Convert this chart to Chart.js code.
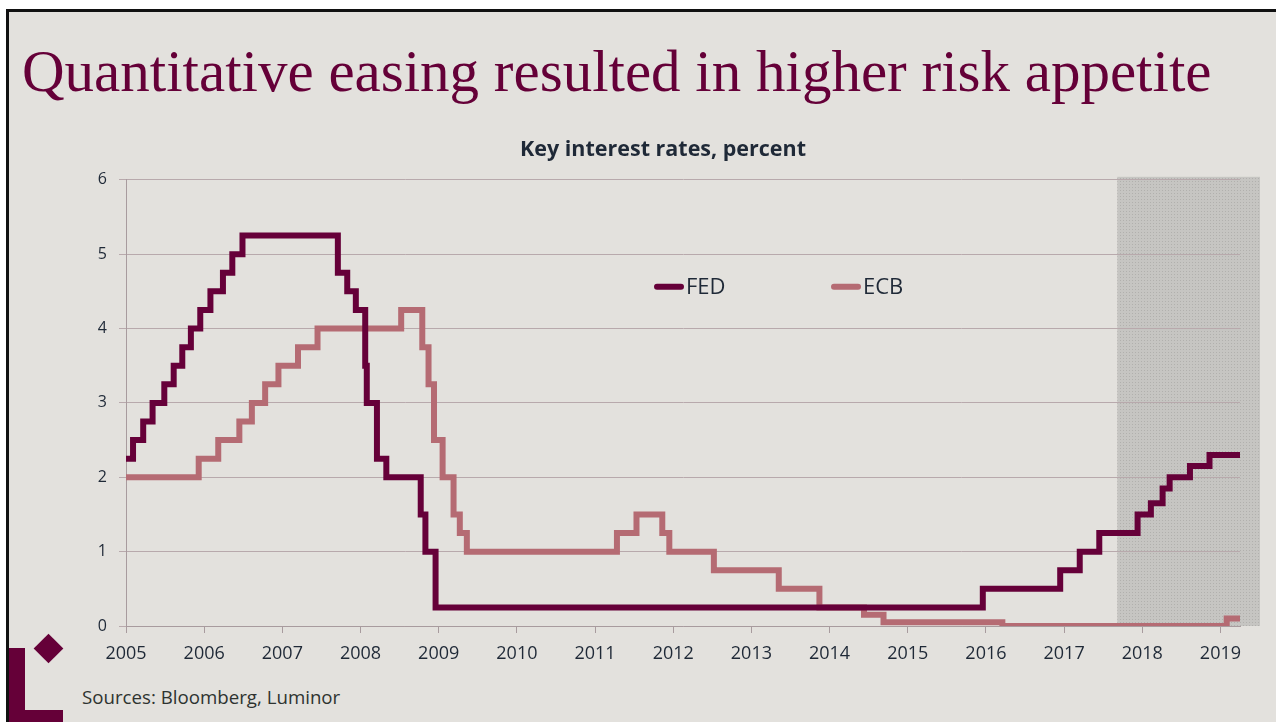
<!DOCTYPE html>
<html lang="en">
<head>
<meta charset="UTF-8">
<title>Key interest rates, percent</title>
<style>
    body {
        margin: 0;
        width: 1276px;
        height: 722px;
        overflow: hidden;
        position: relative;
        background: #ffffff;
        font-family: "Open Sans", sans-serif;
    }
    .slide {
        position: absolute;
        left: 6px;
        top: 9px;
        right: 0;
        bottom: 0;
        background: #e3e1dd;
        border-left: 3px solid #111;
        border-top: 3px solid #111;
    }
    h1 {
        position: absolute;
        left: 22px;
        top: 42px;
        margin: 0;
        font: normal 59px/1 "Liberation Serif", serif;
        color: #650038;
        white-space: nowrap;
    }
    .sources {
        position: absolute;
        left: 82px;
        top: 688px;
        font-size: 18.7px;
        line-height: 1;
        color: #2e3330;
    }
    .logo-v { position: absolute; left: 9px; top: 648px; width: 16px; height: 74px; background: #650038; }
    .logo-h { position: absolute; left: 9px; top: 710px; width: 54px; height: 12px; background: #650038; }
    .logo-d { position: absolute; left: 38px; top: 638px; width: 21px; height: 21px; background: #650038; transform: rotate(45deg); }
    .chart-box {
        position: absolute;
        left: 0;
        top: 0;
        width: 1276px;
        height: 722px;
    }
</style>
</head>
<body>
<div class="slide"></div>
<h1>Quantitative easing resulted in higher risk appetite</h1>
<div class="logo-v"></div>
<div class="logo-h"></div>
<div class="logo-d"></div>
<div class="sources">Sources: Bloomberg, Luminor</div>
<div class="chart-box"><canvas id="rates"></canvas></div>

<script src="https://cdn.jsdelivr.net/npm/chart.js"></script>
<script>
    // decision dates (decimal years) and the rate in force from that date
    const fedDates = [2005.00, 2005.09, 2005.22, 2005.34, 2005.49, 2005.61, 2005.72, 2005.83, 2005.95,
                      2006.08, 2006.24, 2006.36, 2006.49, 2007.71, 2007.83, 2007.94, 2008.06, 2008.08,
                      2008.21, 2008.33, 2008.77, 2008.83, 2008.96, 2015.96, 2016.95, 2017.20, 2017.45,
                      2017.94, 2018.11, 2018.26, 2018.35, 2018.61, 2018.86, 2019.25];
    const fedRates = [2.25, 2.5, 2.75, 3.0, 3.25, 3.5, 3.75, 4.0, 4.25,
                      4.5, 4.75, 5.0, 5.25, 4.75, 4.5, 4.25, 3.5, 3.0,
                      2.25, 2.0, 1.5, 1.0, 0.25, 0.5, 0.75, 1.0, 1.25,
                      1.5, 1.65, 1.85, 2.0, 2.15, 2.3, 2.3];

    const ecbDates = [2005.00, 2005.93, 2006.18, 2006.45, 2006.61, 2006.78, 2006.95, 2007.20, 2007.45,
                      2008.52, 2008.79, 2008.87, 2008.94, 2009.05, 2009.19, 2009.27, 2009.36, 2011.28,
                      2011.53, 2011.86, 2011.95, 2012.52, 2013.35, 2013.87, 2014.44, 2014.69, 2016.21,
                      2019.08, 2019.25];
    const ecbRates = [2.0, 2.25, 2.5, 2.75, 3.0, 3.25, 3.5, 3.75, 4.0,
                      4.25, 3.75, 3.25, 2.5, 2.0, 1.5, 1.25, 1.0, 1.25,
                      1.5, 1.25, 1.0, 0.75, 0.5, 0.25, 0.15, 0.05, 0.0,
                      0.1, 0.1];

    const yearTicks = [2005, 2006, 2007, 2008, 2009, 2010, 2011, 2012, 2013, 2014, 2015, 2016, 2017, 2018, 2019];
    const rateTicks = [0, 1, 2, 3, 4, 5, 6];

    const seriesNames = ['FED', 'ECB'];
    const forecastFrom = 2017.68;

    const toPoints = (xs, ys) => xs.map((x, i) => ({ x: x, y: ys[i] }));

    // dotted grey band over the latest period
    const shadePlugin = {
        id: 'shade',
        beforeDraw(chart) {
            const { ctx, chartArea, scales } = chart;
            const tile = document.createElement('canvas');
            tile.width = 3;
            tile.height = 3;
            const t = tile.getContext('2d');
            t.fillStyle = '#c6c5c2';
            t.fillRect(0, 0, 3, 3);
            t.fillStyle = '#b1b0ad';
            t.fillRect(1, 1, 1, 1);
            const x0 = scales.x.getPixelForValue(forecastFrom);
            ctx.save();
            ctx.fillStyle = ctx.createPattern(tile, 'repeat');
            ctx.fillRect(x0, chartArea.top - 3, chartArea.right + 20 - x0, chartArea.bottom - chartArea.top + 3);
            ctx.restore();
        }
    };

    // legend sitting inside the plot
    const inlineLegend = {
        id: 'inlineLegend',
        afterDatasetsDraw(chart) {
            const { ctx, chartArea } = chart;
            const offsets = [528, 705];
            const y = chartArea.top + 107;
            ctx.save();
            ctx.font = '22px "Open Sans"';
            ctx.textBaseline = 'middle';
            chart.data.datasets.forEach((ds, i) => {
                const x = chartArea.left + offsets[i];
                ctx.strokeStyle = ds.borderColor;
                ctx.lineWidth = 6;
                ctx.lineCap = 'round';
                ctx.beginPath();
                ctx.moveTo(x + 3, y);
                ctx.lineTo(x + 27, y);
                ctx.stroke();
                ctx.fillStyle = '#1f2937';
                ctx.fillText(ds.label, x + 32, y + 1);
            });
            ctx.restore();
        }
    };

    new Chart(document.getElementById('rates'), {
        type: 'line',
        data: {
            datasets: [
                {
                    label: seriesNames[0],
                    data: toPoints(fedDates, fedRates),
                    borderColor: '#660039',
                    borderWidth: 6,
                    stepped: true,
                    pointRadius: 0,
                    borderJoinStyle: 'miter'
                },
                {
                    label: seriesNames[1],
                    data: toPoints(ecbDates, ecbRates),
                    borderColor: '#b56b73',
                    borderWidth: 6,
                    stepped: true,
                    pointRadius: 0,
                    borderJoinStyle: 'miter'
                }
            ]
        },
        options: {
            responsive: true,
            maintainAspectRatio: false,
            animation: false,
            events: [],
            layout: {
                padding: { top: 137, left: 86, right: 36, bottom: 36 }
            },
            scales: {
                x: {
                    type: 'linear',
                    min: 2005,
                    max: 2019.25,
                    afterFit: s => { s.height = 60; },
                    afterBuildTicks: s => { s.ticks = yearTicks.map(v => ({ value: v })); },
                    grid: {
                        drawOnChartArea: false,
                        color: '#a89b9e',
                        tickLength: 7
                    },
                    border: { color: '#a89b9e' },
                    ticks: {
                        padding: 10,
                        color: '#1f2937',
                        font: { family: 'Open Sans', size: 18 },
                        maxRotation: 0,
                        callback: v => String(v)
                    }
                },
                y: {
                    min: 0,
                    max: 6,
                    afterFit: s => { s.width = 40; },
                    afterBuildTicks: s => { s.ticks = rateTicks.map(v => ({ value: v })); },
                    grid: {
                        color: '#b8a9ac',
                        tickLength: 7
                    },
                    border: { color: '#a89b9e' },
                    ticks: {
                        padding: 12,
                        color: '#1f2937',
                        font: { family: 'Open Sans', size: 16 }
                    }
                }
            },
            plugins: {
                legend: { display: false },
                tooltip: { enabled: false },
                title: {
                    display: true,
                    text: 'Key interest rates, percent',
                    color: '#1f2937',
                    font: { family: 'Open Sans', size: 21.5, weight: 'bold' },
                    padding: { top: 0, bottom: 17 }
                }
            }
        },
        plugins: [shadePlugin, inlineLegend]
    });
</script>
</body>
</html>
